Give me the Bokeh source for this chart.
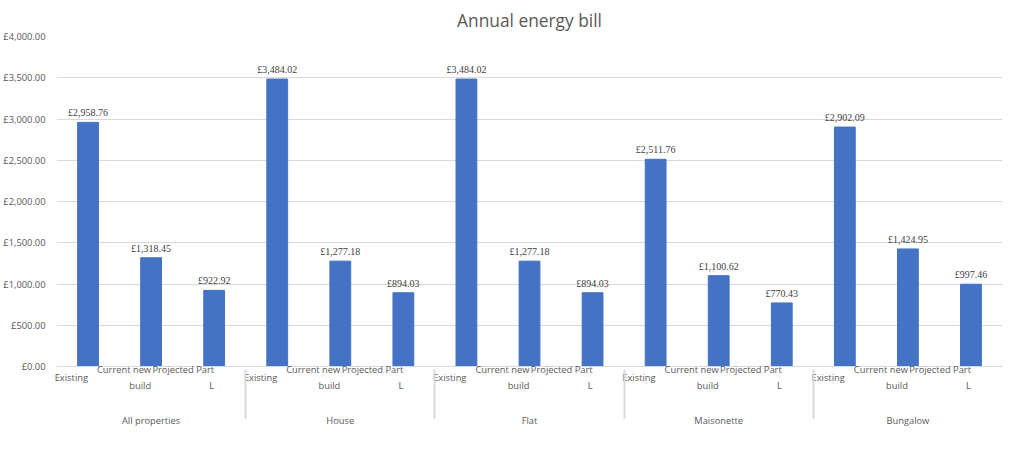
from bokeh.plotting import figure
from bokeh.models import FactorRange, ColumnDataSource, CustomJSTickFormatter, LabelSet, Range1d
from bokeh.embed import file_html
from bokeh.resources import INLINE

groups = ["All properties", "House", "Flat", "Maisonette", "Bungalow"]
subs = ["Existing", "Current new\nbuild", "Projected Part\nL"]
existing = [2958.76, 3484.02, 3484.02, 2511.76, 2902.09]
current = [1318.45, 1277.18, 1277.18, 1100.62, 1424.95]
projected = [922.92, 894.03, 894.03, 770.43, 997.46]

x, vals = [], []
for i, g in enumerate(groups):
    for s, v in zip(subs, [existing[i], current[i], projected[i]]):
        x.append((g, s)); vals.append(v)
labels = ["£{:,.2f}".format(v) for v in vals]
src = ColumnDataSource(dict(x=x, v=vals, lab=labels))

p = figure(x_range=FactorRange(*x, range_padding=0, group_padding=0, subgroup_padding=0, factor_padding=0),
           y_range=Range1d(0, 4000), width=1008, height=430, output_backend="svg",
           toolbar_location=None, title="Annual energy bill",
           min_border_left=50, min_border_right=6, min_border_top=14, min_border_bottom=10)
p.title.align = "center"
p.title.text_font = "Open Sans"
p.title.text_font_size = "13pt"
p.title.text_font_style = "normal"
p.title.text_color = "#595959"
p.vbar(x="x", top="v", width=0.33, color="#4472C4", source=src)
p.add_layout(LabelSet(x="x", y="v", text="lab", source=src, text_align="center", y_offset=4,
                      text_font_size="7.5pt", text_color="#404040", text_font="Open Sans"))
p.yaxis.formatter = CustomJSTickFormatter(code="return '£' + tick.toLocaleString('en-GB', {minimumFractionDigits: 2, maximumFractionDigits: 2});")
p.yaxis.ticker.desired_num_ticks = 9
p.yaxis.axis_line_color = None
p.yaxis.major_tick_line_color = None
p.yaxis.minor_tick_line_color = None
for ax in (p.xaxis[0], p.yaxis[0]):
    ax.major_label_text_font = "Open Sans"
    ax.major_label_text_font_size = "7pt"
    ax.major_label_text_color = "#595959"
p.xaxis.group_text_font = "Open Sans"
p.xaxis.group_text_font_size = "7pt"
p.xaxis.group_text_color = "#595959"
p.xaxis.group_text_font_style = "normal"
p.xaxis.major_label_orientation = 0
p.xaxis.axis_line_color = "#d9d9d9"
p.xaxis.major_tick_line_color = None
p.xaxis.separator_line_color = "#d9d9d9"
p.xgrid.grid_line_color = None
p.ygrid.grid_line_color = "#d9d9d9"
p.outline_line_color = None
open("out.html", "w").write(file_html(p, INLINE))
